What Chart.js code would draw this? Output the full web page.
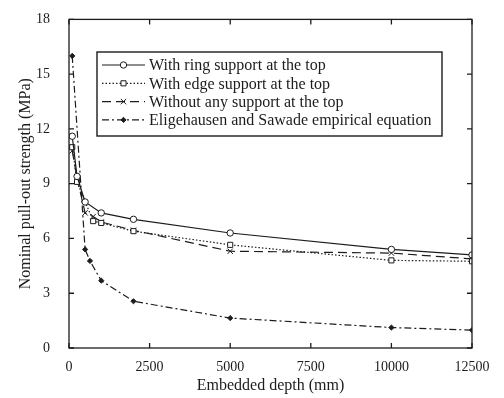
<!DOCTYPE html>
<html><head><meta charset="utf-8">
<script src="https://cdn.jsdelivr.net/npm/chart.js@4.4.0/dist/chart.umd.min.js"></script>
<style>html,body{margin:0;padding:0;background:#fff;}#wrap{width:504px;height:398px;}</style>
</head><body><div id="wrap"><canvas id="c" width="504" height="398"></canvas></div>
<script>
const seriesNames = [
  "With ring support at the top",
  "With edge support at the top",
  "Without any support at the top",
  "Eligehausen and Sawade empirical equation"
];
const ringX = [100, 250, 500, 1000, 2000, 5000, 10000, 12500];
const ringY = [11.6, 9.4, 8.0, 7.4, 7.05, 6.3, 5.4, 5.1];
const edgeX = [100, 250, 750, 1000, 2000, 5000, 10000, 12500];
const edgeY = [11.0, 9.1, 6.95, 6.85, 6.4, 5.65, 4.8, 4.75];
const noneX = [100, 250, 500, 750, 1000, 2000, 5000, 10000, 12500];
const noneY = [10.8, 9.3, 7.4, 7.2, 6.9, 6.45, 5.3, 5.2, 4.88];
const eligX = [100, 500, 650, 1000, 2000, 5000, 10000, 12500];
const eligY = [16.0, 5.4, 4.77, 3.69, 2.56, 1.64, 1.12, 0.98];
const xTicks = [0, 2500, 5000, 7500, 10000, 12500];
const yTicks = [0, 3, 6, 9, 12, 15, 18];
const xTitle = "Embedded depth (mm)";
const yTitle = "Nominal pull-out strength (MPa)";

const INK = '#1c1c1c';
const FONT = "'Liberation Serif', 'Times New Roman', serif";
const pts = (xs, ys) => xs.map((x, i) => ({x: x, y: ys[i]}));

const styles = [
  {dash: [], pointStyle: 'circle', radius: 3.2, fill: '#fff'},
  {dash: [1.5, 2], pointStyle: 'rect', radius: 3.6, fill: '#fff'},
  {dash: [9, 5], pointStyle: 'crossRot', radius: 3.8, fill: '#fff'},
  {dash: [7, 3, 2, 3], pointStyle: 'rectRot', radius: 2.6, fill: INK}
];
const dataSets = [pts(ringX, ringY), pts(edgeX, edgeY), pts(noneX, noneY), pts(eligX, eligY)];

const datasets = dataSets.map((d, i) => ({
  label: seriesNames[i],
  data: d,
  showLine: true,
  borderColor: INK,
  borderWidth: 1.2,
  borderDash: styles[i].dash,
  tension: 0,
  pointStyle: styles[i].pointStyle,
  pointRadius: styles[i].radius,
  pointBackgroundColor: styles[i].fill,
  pointBorderColor: INK,
  pointBorderWidth: 1,
  fill: false
}));

const framePlugin = {
  id: 'frame',
  afterDatasetsDraw(chart) {
    const {ctx, chartArea: a, scales} = chart;
    ctx.save();
    ctx.strokeStyle = INK;
    ctx.lineWidth = 1.3;
    ctx.setLineDash([]);
    ctx.strokeRect(a.left, a.top, a.right - a.left, a.bottom - a.top);
    const L = 5;
    ctx.beginPath();
    xTicks.forEach(v => {
      const px = scales.x.getPixelForValue(v);
      ctx.moveTo(px, a.bottom); ctx.lineTo(px, a.bottom - L);
      ctx.moveTo(px, a.top); ctx.lineTo(px, a.top + L);
    });
    yTicks.forEach(v => {
      const py = scales.y.getPixelForValue(v);
      ctx.moveTo(a.left, py); ctx.lineTo(a.left + L, py);
      ctx.moveTo(a.right, py); ctx.lineTo(a.right - L, py);
    });
    ctx.stroke();

    // legend box
    const bx = 97, by = 52, bw = 345, bh = 84;
    ctx.fillStyle = '#fff';
    ctx.fillRect(bx, by, bw, bh);
    ctx.lineWidth = 1.4;
    ctx.strokeRect(bx, by, bw, bh);
    ctx.font = "16px " + FONT;
    ctx.textBaseline = 'middle';
    ctx.textAlign = 'left';
    seriesNames.forEach((name, i) => {
      const y = 65 + i * 18.3;
      const s = styles[i];
      ctx.strokeStyle = INK;
      ctx.lineWidth = 1.2;
      ctx.setLineDash(s.dash);
      ctx.beginPath();
      ctx.moveTo(102, y); ctx.lineTo(145, y);
      ctx.stroke();
      ctx.setLineDash([]);
      ctx.fillStyle = s.fill;
      ctx.lineWidth = 1;
      Chart.helpers.drawPoint(ctx, {pointStyle: s.pointStyle, radius: s.radius, rotation: 0, borderWidth: 1}, 123.5, y);
      ctx.fillStyle = INK;
      ctx.fillText(name, 149, y + 1);
    });
    ctx.restore();
  }
};

new Chart(document.getElementById('c'), {
  type: 'scatter',
  data: {datasets: datasets},
  options: {
    responsive: false,
    animation: false,
    devicePixelRatio: 1,
    layout: {padding: {left: 0, top: 16, right: 32, bottom: 0}},
    plugins: {legend: {display: false}, tooltip: {enabled: false}},
    scales: {
      x: {
        type: 'linear', min: 0, max: 12500,
        afterBuildTicks: s => { s.ticks = xTicks.map(v => ({value: v})); },
        afterFit: s => { s.height = 50; },
        grid: {display: false}, border: {display: false},
        ticks: {color: INK, padding: 3, font: {family: FONT, size: 14}, maxRotation: 0, autoSkip: false,
                callback: v => String(v)},
        title: {display: true, text: xTitle, color: INK, font: {family: FONT, size: 16}, padding: {top: 0, bottom: 3}}
      },
      y: {
        type: 'linear', min: 0, max: 18,
        afterBuildTicks: s => { s.ticks = yTicks.map(v => ({value: v})); },
        afterFit: s => { s.width = 69; },
        grid: {display: false}, border: {display: false},
        ticks: {color: INK, padding: 11, font: {family: FONT, size: 14}, autoSkip: false,
                callback: v => String(v)},
        title: {display: true, text: yTitle, color: INK, font: {family: FONT, size: 16}, padding: {top: 16, bottom: 0}}
      }
    }
  },
  plugins: [framePlugin]
});
</script>
</body></html>
